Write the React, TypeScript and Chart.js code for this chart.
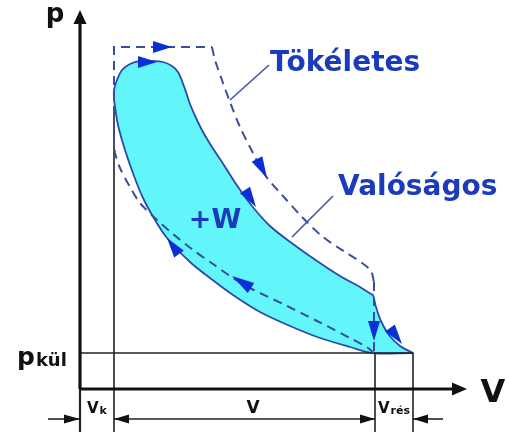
import React, { useEffect, useRef } from "react";
import { Chart, registerables } from "chart.js";

Chart.register(...registerables);

// ---------- data (V = volume, p = pressure, schematic units; origin at the axes' corner) ----------
// Real ("Valóságos") cycle outline, clockwise
const realCycleV = [34, 34, 37, 42, 50, 60, 72, 83, 92, 98, 102, 106, 110, 116, 123, 132, 142, 156, 172, 190, 213, 237, 260, 280, 291, 293, 296, 301, 309, 320, 331, 333, 330, 293, 270, 240, 210, 180, 153, 130, 110, 87, 75, 63, 54, 45, 38, 34];
const realCycleP = [289, 299, 309, 319, 325, 328, 328, 327, 323, 317, 308, 297, 285, 271, 257, 242, 227, 205, 183, 163, 145, 128, 113, 102, 95, 94, 82, 68, 54, 43, 37, 36, 36, 36, 42, 51, 63, 77, 94, 111, 127, 151, 169, 191, 213, 239, 264, 289];

// Ideal ("Tökéletes") cycle, dashed, in four strokes
const idealTopV = [34, 34, 132];
const idealTopP = [244, 342, 342];
const idealExpV = [132, 135, 143, 150, 160, 173, 185, 203, 223, 243, 265, 282, 291, 294];
const idealExpP = [342, 329, 306, 287, 262, 236, 214, 193, 171, 152, 137, 126, 118, 107];
const idealDropV = [294, 294];
const idealDropP = [107, 36];
const idealCompV = [294, 288, 270, 237, 203, 170, 150, 133, 113, 93, 77, 60, 50, 40, 35, 34];
const idealCompP = [36, 41, 51, 68, 85, 101, 113, 125, 139, 155, 169, 186, 202, 221, 236, 244];

// Axes
const axisPV = [0, 0];
const axisPP = [0, 365];
const axisVV = [0, 372];
const axisVP = [0, 0];

// Reference (thin) lines: p_kül level, V_k, V_rés, dimension lines
const pKul = 36;
const vK = 34;
const vStroke = 295;
const vRes = 333;
const dimLevel = -30;
const refLinesV = [[0, 0], [0, vRes], [vK, vK], [vStroke, vStroke], [vRes, vRes], [-32, 0], [vK, vStroke], [vRes, 363]];
const refLinesP = [[0, -43], [pKul, pKul], [281, -43], [pKul, -43], [pKul, -43], [dimLevel, dimLevel], [dimLevel, dimLevel], [dimLevel, dimLevel]];

// Leader lines from labels
const leaderV = [[150, 189], [212, 253]];
const leaderP = [[289, 324], [152, 193]];

// Arrow heads: tip and tail points
const arrowTipV = [92, 77, 187, 176, 294, 322, 152, 87, 0, 387, 0, 34, 295, 333];
const arrowTipP = [342, 327, 211, 182, 48, 45, 113, 151, 379, 0, -30, -30, -30, -30];
const arrowTailV = [73, 58, 177, 165, 294, 310, 171, 99, 0, 372, -16, 49, 280, 348];
const arrowTailP = [342, 327, 230, 199, 68, 61, 101, 135, 365, 0, -30, -30, -30, -30];
const arrowKind = ["flow", "flow", "flow", "flow", "flow", "flow", "flow", "flow", "axis", "axis", "dim", "dim", "dim", "dim"];

// Text labels
const labelText = ["p", "V", "p", "V", "V", "V", "Tökéletes", "Valóságos", "+W"];
const labelSub = ["", "", "kül", "k", "", "rés", "", "", ""];
const labelV = [-25, 413, -63, 7, 173, 298, 190, 258, 135];
const labelP = [367, -13, 24, -24, -24, -24, 318, 194, 161];

// ---------- styles ----------
const FONT = '"DejaVu Sans", "Liberation Sans", sans-serif';
const labelStyle = [
  { size: 26, sub: 0, color: "#111", align: "center" },
  { size: 32, sub: 0, color: "#111", align: "center" },
  { size: 25, sub: 18, color: "#111", align: "left" },
  { size: 15, sub: 11, color: "#111", align: "left" },
  { size: 17, sub: 0, color: "#111", align: "center" },
  { size: 15, sub: 11, color: "#111", align: "left" },
  { size: 28, sub: 0, color: "#1a3cbc", align: "left" },
  { size: 28, sub: 0, color: "#1a3cbc", align: "left" },
  { size: 27, sub: 0, color: "#1a3cbc", align: "center" },
];
const arrowStyle: Record<string, { hw: number; color: string }> = {
  flow: { hw: 6, color: "#0b2fd4" },
  axis: { hw: 6.5, color: "#111" },
  dim: { hw: 4.5, color: "#111" },
};

const pts = (vs: number[], ps: number[]) => vs.map((v, i) => ({ x: v, y: ps[i] }));

const overlayPlugin = {
  id: "overlay",
  afterDatasetsDraw(chart: any) {
    const { ctx, scales } = chart;
    const sx = scales.x, sy = scales.y;
    ctx.save();
    arrowTipV.forEach((_, i) => {
      const tx = sx.getPixelForValue(arrowTipV[i]);
      const ty = sy.getPixelForValue(arrowTipP[i]);
      const bx = sx.getPixelForValue(arrowTailV[i]);
      const by = sy.getPixelForValue(arrowTailP[i]);
      const st = arrowStyle[arrowKind[i]];
      const dx = tx - bx, dy = ty - by;
      const len = Math.hypot(dx, dy) || 1;
      const nx = -dy / len, ny = dx / len;
      ctx.beginPath();
      ctx.moveTo(tx, ty);
      ctx.lineTo(bx + nx * st.hw, by + ny * st.hw);
      ctx.lineTo(bx - nx * st.hw, by - ny * st.hw);
      ctx.closePath();
      ctx.fillStyle = st.color;
      ctx.fill();
    });
    labelText.forEach((t, i) => {
      const st = labelStyle[i];
      const px = sx.getPixelForValue(labelV[i]);
      const py = sy.getPixelForValue(labelP[i]);
      ctx.font = `bold ${st.size}px ${FONT}`;
      const wMain = ctx.measureText(t).width;
      let wSub = 0;
      if (labelSub[i]) {
        ctx.font = `bold ${st.sub}px ${FONT}`;
        wSub = ctx.measureText(labelSub[i]).width;
      }
      const x0 = st.align === "center" ? px - (wMain + wSub) / 2 : px;
      ctx.fillStyle = st.color;
      ctx.textAlign = "left";
      ctx.textBaseline = "alphabetic";
      ctx.font = `bold ${st.size}px ${FONT}`;
      ctx.fillText(t, x0, py);
      if (labelSub[i]) {
        ctx.font = `bold ${st.sub}px ${FONT}`;
        ctx.fillText(labelSub[i], x0 + wMain + 1, py + 1);
      }
    });
    ctx.restore();
  },
};

export default function App() {
  const ref = useRef<HTMLCanvasElement | null>(null);
  useEffect(() => {
    if (!ref.current) return;
    const base = { pointRadius: 0, pointHoverRadius: 0, fill: false, tension: 0, borderCapStyle: "butt" as const };
    const datasets: any[] = [
      {
        ...base,
        data: pts(realCycleV, realCycleP),
        fill: "shape",
        backgroundColor: "#62F5FA",
        borderColor: "#2c4aac",
        borderWidth: 1.8,
        tension: 0.35,
        order: 10,
      },
      ...refLinesV.map((v, i) => ({
        ...base,
        data: pts(v, refLinesP[i]),
        borderColor: "#222",
        borderWidth: i === 0 ? 2.2 : 1.6,
        order: 6,
      })),
      { ...base, data: pts(axisPV, axisPP), borderColor: "#111", borderWidth: 3.2, order: 5 },
      { ...base, data: pts(axisVV, axisVP), borderColor: "#111", borderWidth: 3.2, order: 5 },
      ...[
        [idealTopV, idealTopP, 0],
        [idealExpV, idealExpP, 0.3],
        [idealDropV, idealDropP, 0],
        [idealCompV, idealCompP, 0.3],
      ].map(([v, p, t]: any) => ({
        ...base,
        data: pts(v, p),
        borderColor: "#3c4c9c",
        borderWidth: 2,
        borderDash: [9, 6],
        tension: t,
        order: 4,
      })),
      ...leaderV.map((v, i) => ({
        ...base,
        data: pts(v, leaderP[i]),
        borderColor: "#4052a8",
        borderWidth: 1.6,
        order: 3,
      })),
    ];
    const chart = new Chart(ref.current, {
      type: "line",
      data: { datasets },
      options: {
        animation: false,
        responsive: false,
        devicePixelRatio: 1,
        layout: { padding: 0 },
        events: [],
        plugins: { legend: { display: false }, tooltip: { enabled: false } },
        scales: {
          x: { type: "linear", min: -80, max: 427, display: false },
          y: { type: "linear", min: -43, max: 389, display: false },
        },
      },
      plugins: [overlayPlugin],
    });
    return () => chart.destroy();
  }, []);
  return (
    <div style={{ position: "absolute", left: 0, top: 0, width: 507, height: 432, background: "#fff" }}>
      <canvas ref={ref} width={507} height={432} style={{ display: "block" }} />
    </div>
  );
}
